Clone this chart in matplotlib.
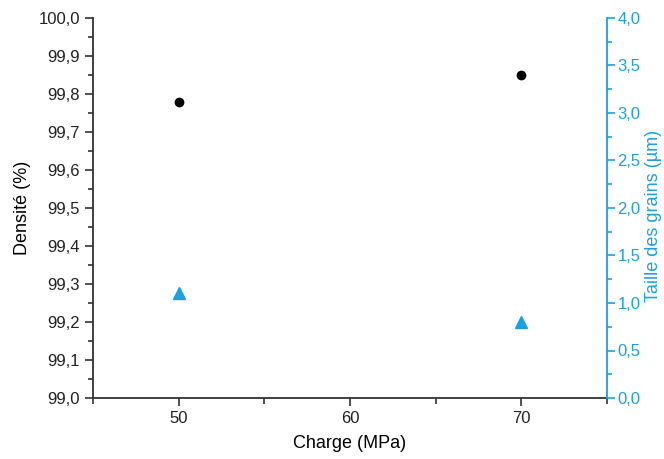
import matplotlib
matplotlib.use("Agg")
import matplotlib.pyplot as plt
from matplotlib.ticker import MultipleLocator, FuncFormatter

plt.rcParams['font.family'] = ['Liberation Sans', 'DejaVu Sans']

charge = [50, 70]
densite = [99.78, 99.85]
taille = [1.1, 0.8]

cyan = '#1ba1e2'

fig = plt.figure(figsize=(6.64, 4.59), dpi=100)
ax = fig.add_axes([93/664, 1 - 398/459, (607-93)/664, (398-18)/459])
ax2 = ax.twinx()

ax.plot(charge, densite, 'o', color='black', markersize=6)
ax2.plot(charge, taille, '^', color=cyan, markersize=8)

ax.set_xlim(45, 75)
ax.set_ylim(99.0, 100.0)
ax2.set_ylim(0, 4.0)

ax.xaxis.set_major_locator(MultipleLocator(10))
ax.xaxis.set_minor_locator(MultipleLocator(5))
ax.yaxis.set_major_locator(MultipleLocator(0.1))
ax.yaxis.set_minor_locator(MultipleLocator(0.05))
ax2.yaxis.set_major_locator(MultipleLocator(0.5))
ax2.yaxis.set_minor_locator(MultipleLocator(0.25))

comma1 = FuncFormatter(lambda v, p: f"{v:.1f}".replace('.', ','))
ax.yaxis.set_major_formatter(comma1)
ax2.yaxis.set_major_formatter(comma1)

for a in (ax, ax2):
    a.spines['top'].set_visible(False)

ax.spines['right'].set_visible(False)
ax.spines['left'].set_color('#333333')
ax.spines['bottom'].set_color('#333333')
ax2.spines['left'].set_visible(False)
ax2.spines['bottom'].set_visible(False)
ax2.spines['right'].set_color(cyan)
ax2.spines['right'].set_linewidth(1.3)
ax.spines['left'].set_linewidth(1.3)
ax.spines['bottom'].set_linewidth(1.3)

ax.tick_params(axis='both', which='major', direction='out', length=6, width=1.2,
               labelsize=12, colors='#333333', labelcolor='#222222')
ax.tick_params(axis='both', which='minor', direction='out', length=3.5, width=1.2, colors='#333333')
ax.tick_params(axis='x', which='minor', length=4)
ax2.tick_params(axis='y', which='major', direction='out', length=6, width=1.2,
                labelsize=12, colors=cyan, pad=1.5)
ax2.tick_params(axis='y', which='minor', direction='out', length=3.5, width=1.2, colors=cyan)

ax.set_xlabel('Charge (MPa)', fontsize=13, labelpad=6)
ax.set_ylabel('Densité (%)', fontsize=13, labelpad=5)
ax2.set_ylabel('Taille des grains (µm)', fontsize=13, color=cyan)
ax2.yaxis.set_label_coords(1.0 + 38/514, 0.48)

fig.savefig('out.png', dpi=100)
